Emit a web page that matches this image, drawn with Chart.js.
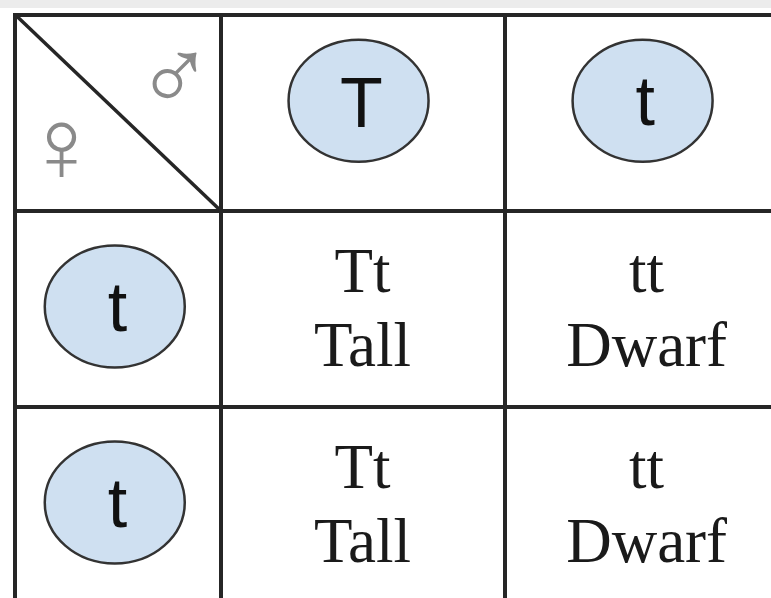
<!DOCTYPE html>
<html>
<head>
<meta charset="utf-8">
<script src="https://cdn.jsdelivr.net/npm/chart.js@4.4.0/dist/chart.umd.min.js"></script>
<style>
  html, body { margin: 0; padding: 0; background: #fff; }
  #wrap { width: 771px; height: 598px; background: linear-gradient(#ececec 0, #ececec 8px, #fff 8px); }
</style>
</head>
<body>
<div id="wrap"><canvas id="punnettChart"></canvas></div>
<script>
// Punnett square: Tt (male) x tt (female)
const maleGametes = ["T", "t"];
const femaleGametes = ["t", "t"];
const genotypes = [["Tt", "tt"], ["Tt", "tt"]];
const phenotypes = [["Tall", "Dwarf"], ["Tall", "Dwarf"]];
const sexSymbols = ["♂", "♀"];

const LINE = "#262626";

// one point per offspring cell (row, col) -> centre of the cell in grid units
const offspringPoints = [];
genotypes.forEach((row, r) => {
  row.forEach((g, c) => {
    offspringPoints.push({ x: c + 1.5, y: r + 1.5, genotype: g, phenotype: phenotypes[r][c] });
  });
});

// draws text centred on its real glyph box
function drawCentered(ctx, text, cx, cy) {
  ctx.textAlign = "left";
  ctx.textBaseline = "alphabetic";
  const m = ctx.measureText(text);
  const w = m.actualBoundingBoxRight + m.actualBoundingBoxLeft;
  const x = cx - w / 2 + m.actualBoundingBoxLeft;
  const y = cy + (m.actualBoundingBoxAscent - m.actualBoundingBoxDescent) / 2;
  ctx.fillText(text, x, y);
}

function drawGamete(ctx, cx, cy, label) {
  ctx.beginPath();
  ctx.ellipse(cx, cy, 70, 61, 0, 0, Math.PI * 2);
  ctx.fillStyle = "#cfe0f1";
  ctx.fill();
  ctx.lineWidth = 2.5;
  ctx.strokeStyle = "#333";
  ctx.stroke();
  ctx.fillStyle = "#111";
  ctx.font = "70px 'Liberation Sans', Arial, sans-serif";
  drawCentered(ctx, label, cx + 3, cy + 2);
}

const punnettPlugin = {
  id: "punnett",
  afterDatasetsDraw(chart) {
    const ctx = chart.ctx;
    const xs = chart.scales.x;
    const ys = chart.scales.y;
    const area = chart.chartArea;
    ctx.save();

    // diagonal of the corner cell
    ctx.strokeStyle = LINE;
    ctx.lineWidth = 3.5;
    ctx.beginPath();
    ctx.moveTo(area.left, area.top);
    ctx.lineTo(xs.getPixelForValue(1), ys.getPixelForValue(1));
    ctx.stroke();

    // sex symbols
    ctx.fillStyle = "#8a8a8a";
    ctx.font = "104px 'Liberation Sans', Arial, sans-serif";
    drawCentered(ctx, sexSymbols[0], xs.getPixelForValue(0.84), ys.getPixelForValue(0.31));
    drawCentered(ctx, sexSymbols[1], xs.getPixelForValue(0.44), ys.getPixelForValue(0.69));

    // gametes
    maleGametes.forEach((g, i) => {
      drawGamete(ctx, xs.getPixelForValue(i + 1.5) - 4, ys.getPixelForValue(0.44), g);
    });
    const firstCol = (xs.min + 1) / 2;
    femaleGametes.forEach((g, j) => {
      drawGamete(ctx, xs.getPixelForValue(firstCol) - 3, ys.getPixelForValue(j + 1.5) - 2, g);
    });

    // offspring genotype + phenotype
    const meta = chart.getDatasetMeta(0);
    ctx.fillStyle = "#1a1a1a";
    ctx.font = "63px 'Liberation Serif', 'Times New Roman', serif";
    ctx.textAlign = "center";
    ctx.textBaseline = "alphabetic";
    meta.data.forEach((pt, k) => {
      const d = offspringPoints[k];
      ctx.fillText(d.genotype, pt.x, pt.y - 17);
      ctx.fillText(d.phenotype, pt.x, pt.y + 57);
    });
    ctx.restore();
  }
};

const cellTicks = (scale) => {
  scale.ticks = [{ value: 1 }, { value: 2 }];
};

const ctx = document.getElementById("punnettChart").getContext("2d");
const punnettChart = new Chart(ctx, {
  type: "scatter",
  data: {
    datasets: [
      {
        label: "Offspring",
        data: offspringPoints,
        pointRadius: 0,
        pointHoverRadius: 0,
      },
    ],
  },
  options: {
    responsive: true,
    maintainAspectRatio: false,
    animation: false,
    devicePixelRatio: 1,
    layout: { padding: { top: 14.5, left: 15, right: 0, bottom: 0 } },
    scales: {
      x: {
        type: "linear",
        position: "top",
        min: 0.2764,
        max: 2.938,
        afterBuildTicks: cellTicks,
        afterFit: (scale) => { scale.height = 0; },
        ticks: { display: false },
        grid: { color: LINE, lineWidth: 4, drawTicks: false },
        border: { display: true, color: LINE, width: 4 },
      },
      y: {
        type: "linear",
        reverse: true,
        min: 0,
        max: 2.977,
        afterBuildTicks: cellTicks,
        afterFit: (scale) => { scale.width = 0; },
        ticks: { display: false },
        grid: { color: LINE, lineWidth: 4, drawTicks: false },
        border: { display: true, color: LINE, width: 4 },
      },
    },
    plugins: {
      legend: { display: false },
      tooltip: { enabled: false },
    },
  },
  plugins: [punnettPlugin],
});
</script>
</body>
</html>
